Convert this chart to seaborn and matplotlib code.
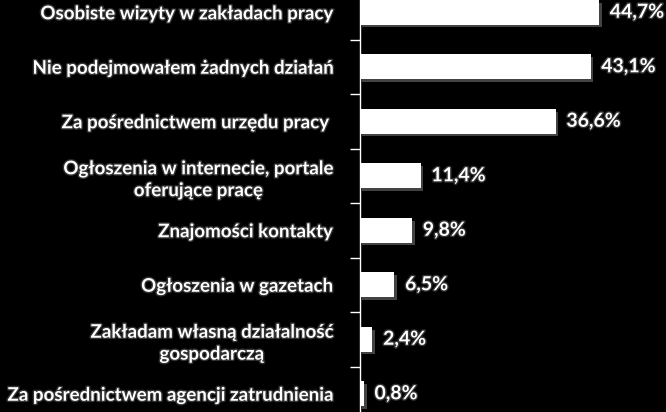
import matplotlib
matplotlib.use("Agg")
import matplotlib.pyplot as plt
import matplotlib.patheffects as pe
from matplotlib.ticker import FixedLocator
import seaborn as sns
import pandas as pd
import numpy as np

categories = [
    "Osobiste wizyty w zakładach pracy",
    "Nie podejmowałem żadnych działań",
    "Za pośrednictwem urzędu pracy ",
    "Ogłoszenia w internecie, portale\noferujące pracę",
    "Znajomości kontakty",
    "Ogłoszenia w gazetach",
    "Zakładam własną działalność\ngospodarczą",
    "Za pośrednictwem agencji zatrudnienia",
]
values = [44.7, 43.1, 36.6, 11.4, 9.8, 6.5, 2.4, 0.8]
value_labels = ["44,7%", "43,1%", "36,6%", "11,4%", "9,8%", "6,5%", "2,4%", "0,8%"]

df = pd.DataFrame({"cat": categories, "val": values})

sns.set_theme(style="dark")
plt.rcParams["font.family"] = ["Lato", "DejaVu Sans"]

fig = plt.figure(figsize=(6.66, 4.12), dpi=100, facecolor="black")
ax = fig.add_axes([359.5 / 666, -9 / 412, 1 - 359.5 / 666, 436 / 412])
ax.set_facecolor("black")

sns.barplot(data=df, y="cat", x="val", orient="h", color="white",
            saturation=1, width=0.45, ax=ax, edgecolor="none")
for p in ax.patches:
    p.set_path_effects([pe.SimplePatchShadow(offset=(2, -2), shadow_rgbFace="#555555", alpha=0.8), pe.Normal()])

ax.set_xlim(0, (666 - 359.5) / 5.36)
ax.set_ylim(7.5, -0.5)
ax.set_xlabel("")
ax.set_ylabel("")
ax.set_xticks([])

glow = [pe.withStroke(linewidth=2, foreground="#333333")]
for i, (v, lab) in enumerate(zip(values, value_labels)):
    ax.text(v + 2.0, i, lab, color="white", fontsize=14, fontweight="bold",
            va="center", ha="left", path_effects=glow)

ax.set_yticks(range(len(categories)))
ax.set_yticklabels(categories, fontsize=13.5, fontweight="bold", color="white",
                   multialignment="center", linespacing=1.35)
for t in ax.get_yticklabels():
    t.set_path_effects(glow)
ax.tick_params(axis="y", which="major", length=0, pad=19)
ax.yaxis.set_minor_locator(FixedLocator(np.arange(-0.5, 8.0, 1.0)))
ax.tick_params(axis="y", which="minor", length=7, width=1, color="white", direction="out", left=True)

for s in ["top", "right", "bottom"]:
    ax.spines[s].set_visible(False)
ax.spines["left"].set_visible(True)
ax.spines["left"].set_color("white")
ax.spines["left"].set_linewidth(1)
ax.grid(False)

fig.savefig("out.png", dpi=100, facecolor="black")
